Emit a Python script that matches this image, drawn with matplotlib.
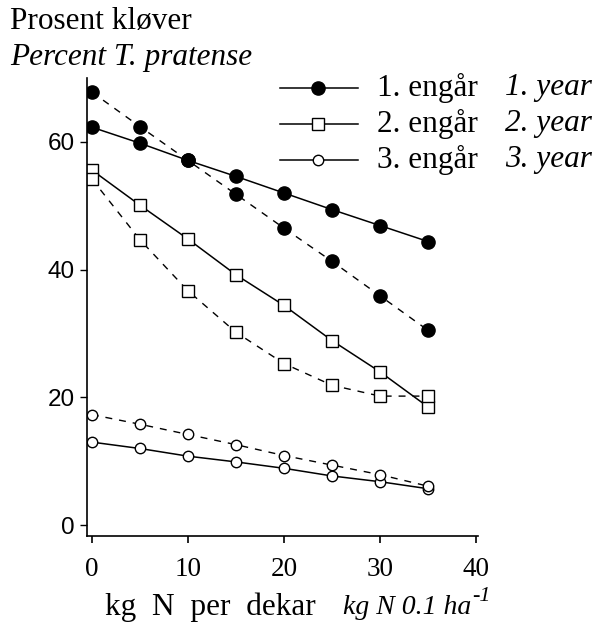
import matplotlib
matplotlib.use("Agg")
import matplotlib.pyplot as plt
from matplotlib.lines import Line2D

x_n = [0, 5, 10, 15, 20, 25, 30, 35]
y1_solid = [62.3, 59.8, 57.1, 54.6, 52.0, 49.4, 46.9, 44.4]
y1_dash = [67.8, 62.4, 57.1, 51.8, 46.5, 41.3, 35.9, 30.5]
y2_solid = [55.6, 50.1, 44.8, 39.2, 34.4, 28.9, 24.0, 18.5]
y2_dash = [54.2, 44.7, 36.7, 30.2, 25.3, 21.9, 20.2, 20.2]
y3_solid = [13.0, 12.0, 10.8, 9.9, 8.9, 7.7, 6.8, 5.7]
y3_dash = [17.3, 15.8, 14.2, 12.6, 10.9, 9.4, 7.9, 6.1]

x_ticks = [0, 10, 20, 30, 40]
y_ticks = [0, 20, 40, 60]
legend_no = ["1. engår", "2. engår", "3. engår"]
legend_en = ["1. year", "2. year", "3. year"]

SERIF = "Liberation Serif"
SANS = "Liberation Sans"
FS = 22.5

fig = plt.figure(figsize=(6.02, 6.23), dpi=100)
W, H = 602, 623
ax = fig.add_axes([87 / W, 1 - 536 / H, (478 - 87) / W, (536 - 78) / H])

styles = [
    dict(marker="o", mfc="black", mec="black", ms=9.5),
    dict(marker="s", mfc="white", mec="black", ms=8.5, mew=1.0),
    dict(marker="o", mfc="white", mec="black", ms=7.5, mew=1.0),
]
series = [(y1_solid, y1_dash), (y2_solid, y2_dash), (y3_solid, y3_dash)]
for (ys, yd), st in zip(series, styles):
    ax.plot(x_n, ys, color="black", lw=1.1, ls="-", zorder=2, **st)
    ax.plot(x_n, yd, color="black", lw=1.0, ls=(0, (5, 5)), zorder=2, **st)

ax.set_xlim(-0.5, 40.2)
ax.set_ylim(-1.7, 70)
for s in ["top", "right"]:
    ax.spines[s].set_visible(False)
for s in ["left", "bottom"]:
    ax.spines[s].set_linewidth(1.2)
ax.set_xticks(x_ticks)
ax.set_yticks(y_ticks)
ax.set_xticklabels([str(v) for v in x_ticks], fontfamily=SERIF, fontsize=19.5)
ax.set_yticklabels([str(v) for v in y_ticks], fontfamily=SANS, fontsize=17.5)
ax.tick_params(axis="x", direction="out", length=5, width=1.2, pad=10)
ax.tick_params(axis="y", direction="out", length=5, width=1.0, pad=4)

# titles
fig.text(10 / W, 1 - 22 / H, "Prosent kløver", fontfamily=SERIF, fontsize=FS,
         va="center", ha="left")
fig.text(10 / W, 1 - 57 / H, "Percent T. pratense", fontfamily=SERIF,
         style="italic", fontsize=FS, va="center", ha="left")

# x label
fig.text(105 / W, 1 - 607 / H, "kg  N  per  dekar", fontfamily=SERIF, fontsize=FS,
         va="center", ha="left")
t_it = fig.text(343 / W, 1 - 607 / H, "kg N 0.1 ha", fontfamily=SERIF,
                style="italic", fontsize=20, va="center", ha="left")
renderer = fig.canvas.get_renderer()
bb = t_it.get_window_extent(renderer=renderer)
fig.text((bb.x1 + 1) / W, (bb.y1 - 2) / H, "-1", fontfamily=SERIF,
         style="italic", fontsize=16, va="center", ha="left")

# legend
rows_y = [88, 124, 160]
for yy, st, lno, len_ in zip(rows_y, styles, legend_no, legend_en):
    yf = 1 - yy / H
    fig.add_artist(Line2D([280 / W, 358 / W], [yf, yf], color="black", lw=1.1,
                          transform=fig.transFigure))
    fig.add_artist(Line2D([318 / W], [yf], color="black", ls="none",
                          transform=fig.transFigure, **st))
    fig.text(377 / W, yf, lno, fontfamily=SERIF, fontsize=FS, va="center", ha="left")
    fig.text(505 / W, yf, len_, fontfamily=SERIF, style="italic", fontsize=FS,
             va="center", ha="left")

fig.savefig("out.png", dpi=100)
